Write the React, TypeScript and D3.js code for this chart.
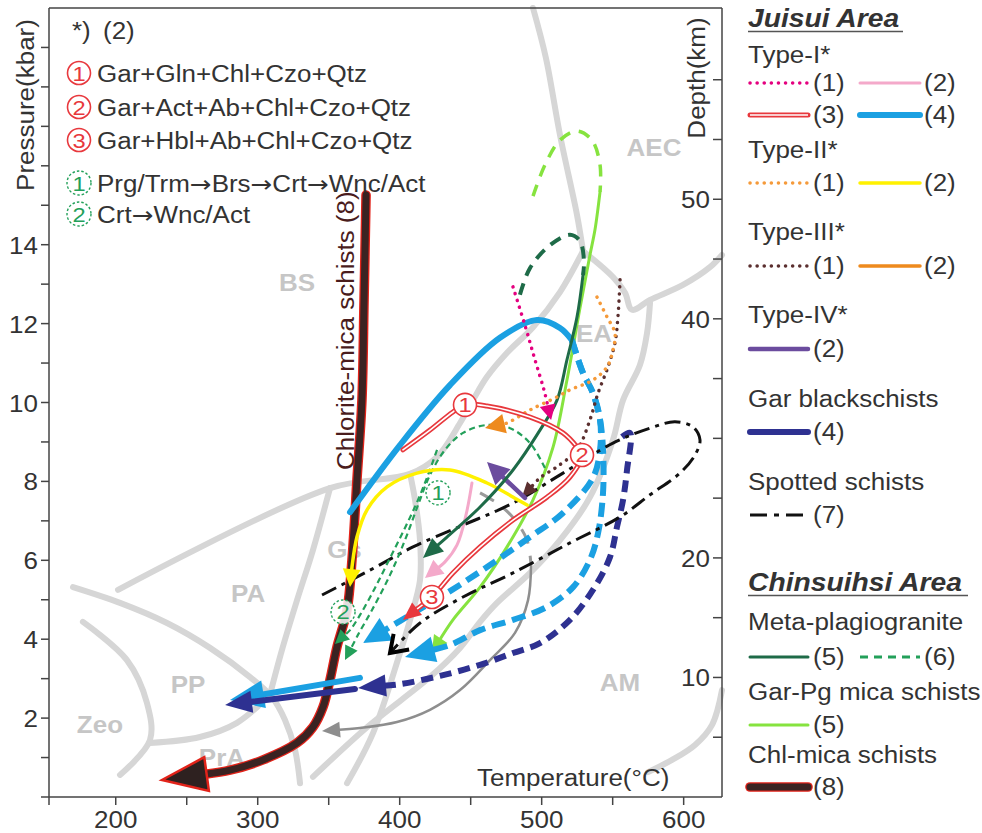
import React from 'react'
import * as d3 from 'd3'

type Pt = [number, number]

const FONT = '"Liberation Sans", Arial, Helvetica, sans-serif'
const SX = 1.13
const INK = '#333'
const AXIS = '#444'

// axis ranges (temperature °C, pressure kbar)
const T_RANGE: Pt = [153, 627]
const P_RANGE: Pt = [0, 20]
const KM_PER_KBAR = 3.3

const tempTicks = [200, 250, 300, 350, 400, 450, 500, 550, 600]
const tempLabels = [200, 300, 400, 500, 600]
const presTicks = [1, 2, 3, 4, 5, 6, 7, 8, 9, 10, 11, 12, 13, 14, 15, 16, 17, 18, 19]
const presLabels = [2, 4, 6, 8, 10, 12, 14]
const depthTicks = [5, 10, 15, 20, 25, 30, 35, 40, 45, 50, 55, 60]
const depthLabels = [10, 20, 40, 50]

// metamorphic facies grid (T, P)
const gridBsAec: Pt[] = [[493.9, 20.0], [503, 18.73], [512.9, 16.78], [524.9, 14.75], [529.1, 13.84]]
const gridEaAec: Pt[] = [[529.1, 13.84], [550.2, 13.18], [558.7, 12.78], [563.6, 12.35], [576.3, 12.6], [599.5, 12.98], [618.5, 13.43], [627, 13.74]]
const gridBsLower: Pt[] = [[201.6, 5.25], [350.9, 7.83], [407.3, 8.19], [426.3, 8.62], [442.5, 9.48], [451.6, 10.06], [461.5, 10.65], [475.6, 11.26], [493.9, 11.91], [512.9, 12.8], [529.1, 13.84]]
const gridPpUpper: Pt[] = [[169.9, 5.32], [203, 4.92], [236.1, 4.41], [266.4, 3.78], [294.6, 3.04], [310.1, 2.53], [319.2, 1.95], [326.3, 1.19], [329.8, 0.35]]
const gridZeo: Pt[] = [[176.9, 4.44], [207.9, 3.47], [222, 2.38], [224.1, 1.44], [203, 0.56]]
const gridPpPra: Pt[] = [[224.1, 1.37], [259.3, 1.52], [285.4, 1.88], [308.6, 2.59]]
const gridPaGs: Pt[] = [[308.6, 2.59], [317.1, 3.73], [327.7, 4.99], [338.9, 6.26], [350.9, 7.83]]
const gridGsEa: Pt[] = [[407.3, 8.19], [410.8, 7.53], [414.3, 6.51], [414.3, 5.5], [407.3, 4.49], [400.2, 3.65], [381.2, 1.62], [362.9, 0.35]]
const gridAm: Pt[] = [[338.9, 0.51], [377, 1.77], [421.3, 3.04], [442.5, 3.78], [456.6, 4.44], [468.5, 4.92], [491.8, 5.68], [512.9, 6.51], [534, 7.6], [550.2, 9.05], [557.3, 10.06], [569.2, 10.95], [574.2, 11.76], [576.3, 12.52]]
const gridAmLower: Pt[] = [[627, 2.71], [620, 1.83], [608, 1.32], [591.8, 0.94], [574.9, 0.63]]
const faciesGrid = [gridBsAec, gridEaAec, gridBsLower, gridPpUpper, gridZeo, gridPpPra, gridPaGs, gridGsEa, gridAm, gridAmLower]

const faciesNames = ['BS', 'AEC', 'EA', 'Gs', 'PA', 'PP', 'Zeo', 'PrA', 'AM']
const faciesAt: Pt[] = [[327.7, 13.03], [579.1, 16.45], [536.9, 11.74], [361.1, 6.26], [293.2, 5.15], [250.9, 2.84], [188.9, 1.83], [274.8, 0.99], [555.2, 2.89]]

// P-T paths
const chlMica8: Pt[] = [[376.3, 15.26], [374.9, 12.6], [373.4, 10.06], [369.9, 8.04], [366.4, 6.01], [362.9, 4.74], [355.8, 3.8], [350.9, 2.97], [346, 2.28], [338.9, 1.77], [327.7, 1.37], [303.7, 0.94], [280.5, 0.68], [259.3, 0.56]]
const chlMica8Tip: Pt = [232.6, 0.43]

const type1d: Pt[] = [[365, 7.22], [400.2, 8.92], [435.4, 10.44], [470.6, 11.64], [496.7, 12.09], [512.9, 11.89], [521.3, 11.58]]
const type1dRetroA: Pt[] = [[521.3, 11.58], [529.1, 10.75], [536.1, 10.24], [541.1, 9.56], [541.1, 8.8], [536.1, 8.09], [515, 7.2], [491.8, 6.59], [461.5, 5.83], [433.3, 5.17], [409.4, 4.66]]
const type1dRetroATip: Pt = [374.2, 3.9]
const type1dRetroB: Pt[] = [[521.3, 11.58], [529.1, 10.75], [536.1, 10.24], [541.1, 9.56], [543.2, 8.8], [543.2, 7.71], [539.7, 6.69], [534, 6.01], [522.1, 5.32], [503.7, 4.82], [479.8, 4.49], [456.6, 4.23], [435.4, 3.85]]
const type1dRetroBTip: Pt = [403.7, 3.55]
const type1dLow: Pt[] = [[372, 3.02]]
const type1dLowTip: Pt = [280.5, 2.46]

const garBlack: Pt[] = [[556.6, 9.13], [562.2, 9.23], [560.1, 8.29], [557.3, 7.53], [553, 6.84], [548.1, 6.08], [536.1, 5.25], [519.9, 4.49], [498.8, 3.9], [479.8, 3.65], [456.6, 3.35], [428.4, 3.07], [400.2, 2.86]]
const garBlackTip: Pt = [370.6, 2.76]
const garBlackLow: Pt[] = [[368.5, 2.74]]
const garBlackLowTip: Pt = [277, 2.33]

const spotted7: Pt[] = [[345.3, 5.12], [379.1, 5.75], [409.4, 6.34], [444.6, 6.89], [479.8, 7.45], [515, 8.21], [550.2, 8.97], [576.3, 9.35], [593.9, 9.51], [606.6, 9.38], [611.5, 9.05], [608, 8.67], [597.4, 8.21], [576.3, 7.66], [555.2, 7.1], [519.9, 6.44], [479.8, 5.68], [444.6, 5.07], [414.3, 4.41]]
const spotted7Tip: Pt = [393.2, 3.65]

const type1c: Pt[] = [[402.3, 8.8], [421.3, 9.3], [437.5, 9.76], [446, 9.94], [461.5, 9.91], [491.8, 9.63], [515, 9.23], [524.9, 8.87], [528.4, 8.67], [519.9, 8.11], [503.7, 7.6], [479.8, 7.02], [456.6, 6.34], [437.5, 5.68], [422.7, 5.07]]
const type1cTip: Pt = [402.3, 4.49]
const assemblageAt: Pt[] = [[446, 9.94], [528.4, 8.67], [422.7, 5.07]]
const assemblageNo = ['1', '2', '3']

const type1a: Pt[] = [[479.8, 12.93], [488.2, 11.96], [495.3, 11.08], [501.6, 10.32]]
const type1aTip: Pt = [506.6, 9.56]
const type1b: Pt[] = [[450.9, 7.96], [446.7, 7.15], [440.4, 6.39], [431.9, 5.96]]
const type1bTip: Pt = [417.8, 5.55]
const type2a: Pt[] = [[539, 12.67], [546, 12.17], [551.6, 11.76], [550.2, 11.33], [546, 10.9], [536.1, 10.57], [519.9, 10.32], [510.8, 10.14], [491.8, 9.81], [475.6, 9.48]]
const type2aTip: Pt = [460.1, 9.35]
const type2b: Pt[] = [[489.7, 7.4], [483.3, 7.53], [461.5, 7.96], [435.4, 8.29], [412.2, 8.21], [391.1, 7.86], [377, 7.28], [369.9, 6.59], [366.4, 5.83]]
const type2bTip: Pt = [365, 5.32]
const type3a: Pt[] = [[555.2, 13.11], [553.7, 12.17], [551.6, 11.51], [546.7, 10.9], [539.7, 10.24], [534, 9.56], [524.9, 8.8], [510.8, 8.37], [498.8, 8.09]]
const type3aTip: Pt = [486.1, 7.6]
const type4: Pt[] = [[488.2, 7.58]]
const type4Tip: Pt = [461.5, 8.49]

const metaPg5Peak: Pt[] = [[484.7, 12.73], [491.8, 13.41], [505.9, 13.99], [519.9, 14.25], [527, 14.09], [529.8, 13.56], [529.1, 13.23]]
const metaPg5: Pt[] = [[529.1, 13.23], [524.9, 12.17], [517.8, 11.08], [510.8, 10.06], [498.8, 9.3], [479.8, 8.29], [456.6, 7.35], [433.3, 6.59]]
const metaPg5Tip: Pt = [416.4, 6.06]
const metaPg6Outer: Pt[] = [[502.3, 8.34], [491.8, 8.97], [477.7, 9.35], [461.5, 9.43], [444.6, 9.23], [431.9, 8.8], [421.3, 8.16], [412.9, 7.4], [403.7, 6.51], [393.2, 5.63], [380.5, 4.74], [370.6, 4.11]]
const metaPg6OuterTip: Pt = [361.5, 3.47]
const metaPg6Inner: Pt[] = [[426.3, 8.8], [419.9, 8.16], [412.9, 7.53], [403.7, 6.82], [393.2, 6.06], [382.6, 5.3], [372, 4.61], [365, 4.23]]
const metaPg6InnerTip: Pt = [354.4, 3.88]
const reactionAt: Pt[] = [[427, 7.71], [360.1, 4.69]]
const reactionNo = ['1', '2']

const garPg5Peak: Pt[] = [[493.9, 15.23], [502.3, 16.02], [512.9, 16.65], [524.9, 16.88], [535.4, 16.65], [541.1, 16.02], [541.1, 15.34]]
const garPg5: Pt[] = [[541.1, 15.34], [537.5, 14.37], [534, 13.74], [527, 12.4], [517.8, 10.57], [508, 8.87], [493.9, 7.53], [475.6, 6.34], [456.6, 5.32], [437.5, 4.49]]
const garPg5Tip: Pt = [422.7, 3.68]

const greyPeak: Pt[] = [[456.6, 7.71], [470.6, 7.4], [481.2, 7.02], [489.7, 6.51], [492.5, 5.88]]
const greyRetro: Pt[] = [[492.5, 5.88], [490.4, 4.99], [481.2, 4.16], [463.6, 3.47], [442.5, 2.71], [421.3, 2.21], [398.1, 1.9], [372, 1.75]]
const greyRetroTip: Pt = [345.3, 1.67]

const assemblages = ['Gar+Gln+Chl+Czo+Qtz', 'Gar+Act+Ab+Chl+Czo+Qtz', 'Gar+Hbl+Ab+Chl+Czo+Qtz']
const reactions = ['Prg/Trm\u2192Brs\u2192Crt\u2192Wnc/Act', 'Crt\u2192Wnc/Act']

// scales
const xS = d3.scaleLinear().domain(T_RANGE).range([49, 722])
const yS = d3.scaleLinear().domain(P_RANGE).range([797, 8])
const dS = d3.scaleLinear().domain([0, P_RANGE[1] * KM_PER_KBAR]).range([797, 8])
const toS = (p: Pt): Pt => [xS(p[0]), yS(p[1])]
const lineS = d3.line<Pt>().curve(d3.curveCatmullRom.alpha(0.5))

type Sty = { stroke: string; width: number; dash?: string; cap?: 'round' | 'butt'; dbl?: number; outline?: string }
type Head = { len: number; hw: number; fill?: string; stroke?: string; sw?: number; open?: boolean }

const ST: Record<string, Sty> = {
  t1a: { stroke: '#e4007f', width: 3.5, dash: '0.1 7' },
  t1b: { stroke: '#f4a9ca', width: 3 },
  t1c: { stroke: '#e8383d', width: 5, dbl: 1.6 },
  t1d: { stroke: '#1ba0e2', width: 6 },
  t1dDash: { stroke: '#1ba0e2', width: 6, dash: '14 7', cap: 'butt' },
  t2a: { stroke: '#f59a3a', width: 3.5, dash: '0.1 7' },
  t2b: { stroke: '#fff100', width: 3.5 },
  t3a: { stroke: '#5b2f2f', width: 3.5, dash: '0.1 7' },
  t3b: { stroke: '#ee8a1e', width: 3.5 },
  t4: { stroke: '#6b4c9e', width: 4.5 },
  gar: { stroke: '#2e3191', width: 6 },
  garDash: { stroke: '#2e3191', width: 6, dash: '12 7', cap: 'butt' },
  spot: { stroke: '#111', width: 3, dash: '16 6 4 6', cap: 'butt' },
  mp5: { stroke: '#1e6b48', width: 3 },
  mp5Dash: { stroke: '#1e6b48', width: 4, dash: '12 8', cap: 'butt' },
  mp6: { stroke: '#23a05a', width: 2.2, dash: '6 4', cap: 'butt' },
  gp5: { stroke: '#86e33f', width: 3 },
  gp5Dash: { stroke: '#86e33f', width: 3.5, dash: '12 9', cap: 'butt' },
  chl: { stroke: '#3b2322', width: 7, outline: '#e2231a' },
  grey: { stroke: '#8e8e8e', width: 2.5 },
  greyDash: { stroke: '#9a9a9a', width: 3, dash: '16 12', cap: 'butt' },
}

function arrowGeom(from: Pt, tip: Pt, len: number, hw: number) {
  const dx = tip[0] - from[0]
  const dy = tip[1] - from[1]
  const d = Math.hypot(dx, dy) || 1
  const ux = dx / d
  const uy = dy / d
  const bx = tip[0] - ux * len
  const by = tip[1] - uy * len
  return {
    l: [bx - uy * hw, by + ux * hw] as Pt,
    r: [bx + uy * hw, by - ux * hw] as Pt,
    base: [tip[0] - ux * len * 0.75, tip[1] - uy * len * 0.75] as Pt,
  }
}

const ptsAttr = (ps: Pt[]) => ps.map(p => `${p[0].toFixed(1)},${p[1].toFixed(1)}`).join(' ')

function Track({ pts, tip, sty, head }: { pts: Pt[]; tip?: Pt; sty: Sty; head?: Head }) {
  const s = pts.map(toS)
  let headEl: React.ReactNode = null
  if (tip && head) {
    const t = toS(tip)
    const g = arrowGeom(s[s.length - 1], t, head.len, head.hw)
    if (head.open) {
      s.push(t)
      headEl = <polyline points={ptsAttr([g.l, t, g.r])} fill="none" stroke={head.fill ?? sty.stroke} strokeWidth={head.sw ?? 3.5} />
    } else {
      s.push(g.base)
      headEl = (
        <polygon points={ptsAttr([g.l, t, g.r])} fill={head.fill ?? sty.stroke}
          stroke={head.stroke ?? 'none'} strokeWidth={head.sw ?? 0} strokeLinejoin="miter" />
      )
    }
  } else if (tip) s.push(toS(tip))
  const d = lineS(s) ?? ''
  const cap = sty.cap ?? 'round'
  return (
    <g>
      {sty.outline && <path d={d} fill="none" stroke={sty.outline} strokeWidth={sty.width + 2.6} strokeLinecap="round" strokeLinejoin="round" />}
      <path d={d} fill="none" stroke={sty.stroke} strokeWidth={sty.width} strokeDasharray={sty.dash}
        strokeLinecap={cap} strokeLinejoin="round" />
      {sty.dbl && <path d={d} fill="none" stroke="#fff" strokeWidth={sty.dbl} strokeLinecap="round" strokeLinejoin="round" />}
      {headEl}
    </g>
  )
}

function Txt({ x, y, children, size = 23, anchor = 'start', fill = INK, weight = 'normal', italic = false, rotate = 0 }: {
  x: number; y: number; children: React.ReactNode; size?: number; anchor?: 'start' | 'middle' | 'end'
  fill?: string; weight?: string; italic?: boolean; rotate?: number
}) {
  return (
    <text transform={`translate(${x},${y}) rotate(${rotate}) scale(${SX},1)`} textAnchor={anchor}
      fontFamily={FONT} fontSize={size} fontWeight={weight} fontStyle={italic ? 'italic' : 'normal'} fill={fill}>
      {children}
    </text>
  )
}

// arrows are taken from DejaVu so they sit at full size on the x-height
function withArrows(s: string) {
  const parts = s.split('\u2192')
  return parts.map((p, i) => (
    <React.Fragment key={i}>
      {i > 0 && <tspan fontFamily='"DejaVu Sans", sans-serif' fontSize={23}>{'\u2192'}</tspan>}
      <tspan>{p}</tspan>
    </React.Fragment>
  ))
}

function LegendSample({ x1, x2, y, sty }: { x1: number; x2: number; y: number; sty: Sty }) {
  const cap = sty.cap ?? 'round'
  return (
    <g>
      {sty.outline && <line x1={x1} x2={x2} y1={y} y2={y} stroke={sty.outline} strokeWidth={sty.width + 2.6} strokeLinecap="round" />}
      <line x1={x1} x2={x2} y1={y} y2={y} stroke={sty.stroke} strokeWidth={sty.width} strokeDasharray={sty.dash} strokeLinecap={cap} />
      {sty.dbl && <line x1={x1} x2={x2} y1={y} y2={y} stroke="#fff" strokeWidth={sty.dbl} />}
    </g>
  )
}

type LegendRow =
  | { kind: 'title'; text: string; y: number; ul: number }
  | { kind: 'head'; text: string; y: number }
  | { kind: 'items'; y: number; items: { sty: Sty; label: string }[] }

const legendRows: LegendRow[] = [
  { kind: 'title', text: 'Juisui Area', y: 27, ul: 903 },
  { kind: 'head', text: 'Type-I*', y: 63 },
  { kind: 'items', y: 83, items: [{ sty: ST.t1a, label: '(1)' }, { sty: ST.t1b, label: '(2)' }] },
  { kind: 'items', y: 115, items: [{ sty: ST.t1c, label: '(3)' }, { sty: ST.t1d, label: '(4)' }] },
  { kind: 'head', text: 'Type-II*', y: 158 },
  { kind: 'items', y: 183, items: [{ sty: ST.t2a, label: '(1)' }, { sty: ST.t2b, label: '(2)' }] },
  { kind: 'head', text: 'Type-III*', y: 240 },
  { kind: 'items', y: 266, items: [{ sty: ST.t3a, label: '(1)' }, { sty: ST.t3b, label: '(2)' }] },
  { kind: 'head', text: 'Type-IV*', y: 323 },
  { kind: 'items', y: 349, items: [{ sty: ST.t4, label: '(2)' }] },
  { kind: 'head', text: 'Gar blackschists', y: 407 },
  { kind: 'items', y: 432, items: [{ sty: ST.gar, label: '(4)' }] },
  { kind: 'head', text: 'Spotted schists', y: 490 },
  { kind: 'items', y: 515, items: [{ sty: { ...ST.spot, dash: '17 7 5 7' }, label: '(7)' }] },
  { kind: 'title', text: 'Chinsuihsi Area', y: 591, ul: 968 },
  { kind: 'head', text: 'Meta-plagiogranite', y: 630 },
  { kind: 'items', y: 657, items: [{ sty: ST.mp5, label: '(5)' }, { sty: { ...ST.mp6, width: 3, dash: '8 6' }, label: '(6)' }] },
  { kind: 'head', text: 'Gar-Pg mica schists', y: 700 },
  { kind: 'items', y: 725, items: [{ sty: ST.gp5, label: '(5)' }] },
  { kind: 'head', text: 'Chl-mica schists', y: 763 },
  { kind: 'items', y: 787, items: [{ sty: ST.chl, label: '(8)' }] },
]

function Legend() {
  const cols = [{ x1: 750, x2: 808, lx: 813 }, { x1: 860, x2: 920, lx: 924 }]
  return (
    <g>
      {legendRows.map((r, i) => {
        if (r.kind === 'title') {
          return (
            <g key={i}>
              <Txt x={748} y={r.y} size={25} weight="bold" italic>{r.text}</Txt>
              <line x1={748} x2={r.ul} y1={r.y + 4.5} y2={r.y + 4.5} stroke="#555" strokeWidth={1.6} />
            </g>
          )
        }
        if (r.kind === 'head') return <Txt key={i} x={748} y={r.y}>{r.text}</Txt>
        return (
          <g key={i}>
            {r.items.map((it, j) => (
              <g key={j}>
                <LegendSample x1={cols[j].x1} x2={cols[j].x2} y={r.y} sty={it.sty} />
                <Txt x={cols[j].lx} y={r.y + 8}>{it.label}</Txt>
              </g>
            ))}
          </g>
        )
      })}
    </g>
  )
}

export default function App() {
  const red = '#e8383d'
  const green = '#23a05a'
  return (
    <div style={{ position: 'absolute', left: 0, top: 0 }}>
      <svg width={982} height={833} style={{ display: 'block' }}>
        <rect width={982} height={833} fill="#fff" />

        {/* facies grid */}
        {faciesGrid.map((g, i) => (
          <path key={i} d={lineS(g.map(toS)) ?? ''} fill="none" stroke="#d6d6d6" strokeWidth={6}
            strokeLinecap="round" strokeLinejoin="round" />
        ))}
        {faciesNames.map((n, i) => (
          <Txt key={n} x={xS(faciesAt[i][0])} y={yS(faciesAt[i][1]) + 8} anchor="middle" weight="bold" fill="#c6c6c6">{n}</Txt>
        ))}

        {/* frame and axes */}
        <line x1={49} x2={722} y1={8} y2={8} stroke={AXIS} strokeWidth={1.5} />
        <line x1={49} x2={49} y1={8} y2={805} stroke={AXIS} strokeWidth={1.5} />
        <line x1={722} x2={722} y1={8} y2={797} stroke={AXIS} strokeWidth={1.5} />
        <line x1={41} x2={722} y1={797} y2={797} stroke={AXIS} strokeWidth={1.5} />
        {presTicks.map(p => <line key={p} x1={41} x2={49} y1={yS(p)} y2={yS(p)} stroke={AXIS} strokeWidth={1.5} />)}
        {presLabels.map(p => <Txt key={p} x={38} y={yS(p) + 9} anchor="end">{p}</Txt>)}
        {tempTicks.map(t => <line key={t} x1={xS(t)} x2={xS(t)} y1={797} y2={805} stroke={AXIS} strokeWidth={1.5} />)}
        {tempLabels.map(t => <Txt key={t} x={xS(t)} y={828} anchor="middle">{t}</Txt>)}
        {depthTicks.map(d => <line key={d} x1={713} x2={722} y1={dS(d)} y2={dS(d)} stroke={AXIS} strokeWidth={1.5} />)}
        {depthLabels.map(d => <Txt key={d} x={710} y={dS(d) + 9} anchor="end">{d}</Txt>)}
        <Txt x={34} y={105} anchor="middle" rotate={-90}>Pressure(kbar)</Txt>
        <Txt x={705} y={78} anchor="middle" rotate={-90}>Depth(km)</Txt>
        <Txt x={477} y={786}>Temperature(°C)</Txt>

        {/* P-T paths */}
        <Track pts={chlMica8} tip={chlMica8Tip} sty={ST.chl} head={{ len: 45, hw: 17, fill: '#2e2120', stroke: '#e2231a', sw: 2.5 }} />
        <Track pts={greyPeak} sty={ST.greyDash} />
        <Track pts={greyRetro} tip={greyRetroTip} sty={ST.grey} head={{ len: 18, hw: 8 }} />
        <Track pts={garPg5Peak} sty={ST.gp5Dash} />
        <Track pts={garPg5} tip={garPg5Tip} sty={ST.gp5} head={{ len: 16, hw: 8 }} />
        <Track pts={type1dRetroB} tip={type1dRetroBTip} sty={ST.t1dDash} head={{ len: 30, hw: 13, fill: '#1ba0e2' }} />
        <Track pts={type1dRetroA} tip={type1dRetroATip} sty={ST.t1dDash} head={{ len: 27, hw: 13, fill: '#1ba0e2' }} />
        <Track pts={garBlack} tip={garBlackTip} sty={ST.garDash} head={{ len: 28, hw: 11, fill: '#2e3191' }} />
        <Track pts={spotted7} tip={spotted7Tip} sty={ST.spot} head={{ len: 16, hw: 11, open: true, sw: 4, fill: '#000' }} />
        <Track pts={type1dLow} tip={type1dLowTip} sty={ST.t1d} head={{ len: 34, hw: 14 }} />
        <Track pts={garBlackLow} tip={garBlackLowTip} sty={ST.gar} head={{ len: 27, hw: 11 }} />
        <Track pts={type1d} sty={ST.t1d} />
        <Track pts={metaPg6Outer} tip={metaPg6OuterTip} sty={ST.mp6} head={{ len: 14, hw: 7, fill: green }} />
        <Track pts={metaPg6Inner} tip={metaPg6InnerTip} sty={ST.mp6} head={{ len: 14, hw: 7, fill: green }} />
        <Track pts={type2b} tip={type2bTip} sty={ST.t2b} head={{ len: 18, hw: 9 }} />
        <Track pts={type1b} tip={type1bTip} sty={ST.t1b} head={{ len: 18, hw: 9 }} />
        <Track pts={type3a} tip={type3aTip} sty={ST.t3a} head={{ len: 15, hw: 7 }} />
        <Track pts={type4} tip={type4Tip} sty={ST.t4} head={{ len: 22, hw: 11 }} />
        <Track pts={metaPg5Peak} sty={ST.mp5Dash} />
        <Track pts={metaPg5} tip={metaPg5Tip} sty={ST.mp5} head={{ len: 20, hw: 9 }} />
        <Track pts={type1a} tip={type1aTip} sty={ST.t1a} head={{ len: 15, hw: 8 }} />
        <Track pts={type2a} tip={type2aTip} sty={ST.t2a} head={{ len: 20, hw: 10, fill: '#ee8a1e' }} />
        <Track pts={type1c} tip={type1cTip} sty={ST.t1c} head={{ len: 18, hw: 8, fill: red }} />

        {/* assemblage and reaction markers on the paths */}
        {assemblageAt.map((p, i) => (
          <g key={i}>
            <circle cx={xS(p[0])} cy={yS(p[1])} r={11.5} fill="#fff" stroke={red} strokeWidth={1.6} />
            <Txt x={xS(p[0])} y={yS(p[1]) + 7.5} size={21} anchor="middle" fill={red}>{assemblageNo[i]}</Txt>
          </g>
        ))}
        {reactionAt.map((p, i) => (
          <g key={i}>
            <circle cx={xS(p[0])} cy={yS(p[1])} r={12} fill="#fff" fillOpacity={0.85} stroke={green} strokeWidth={1.4} strokeDasharray="2.5 2" />
            <Txt x={xS(p[0])} y={yS(p[1]) + 7.5} size={21} anchor="middle" fill={green}>{reactionNo[i]}</Txt>
          </g>
        ))}

        <Txt x={354} y={470} rotate={-90} fill="#4a1c1c">Chlorite-mica schists (8)</Txt>

        {/* key to the numbered markers */}
        <Txt x={72} y={39}>*)</Txt>
        <Txt x={103} y={39}>(2)</Txt>
        {assemblages.map((a, i) => {
          const cy = [73, 107, 140][i]
          return (
            <g key={a}>
              <circle cx={79} cy={cy} r={11.5} fill="#fff" stroke={red} strokeWidth={1.6} />
              <Txt x={79} y={cy + 7.5} size={21} anchor="middle" fill={red}>{assemblageNo[i]}</Txt>
              <Txt x={97} y={cy + 9}>{a}</Txt>
            </g>
          )
        })}
        {reactions.map((a, i) => {
          const cy = [183, 214][i]
          return (
            <g key={a}>
              <circle cx={79} cy={cy} r={12} fill="#fff" stroke={green} strokeWidth={1.4} strokeDasharray="2.5 2" />
              <Txt x={79} y={cy + 7.5} size={21} anchor="middle" fill={green}>{reactionNo[i]}</Txt>
              <Txt x={97} y={cy + 9}>{withArrows(a)}</Txt>
            </g>
          )
        })}

        <Legend />
      </svg>
    </div>
  )
}
